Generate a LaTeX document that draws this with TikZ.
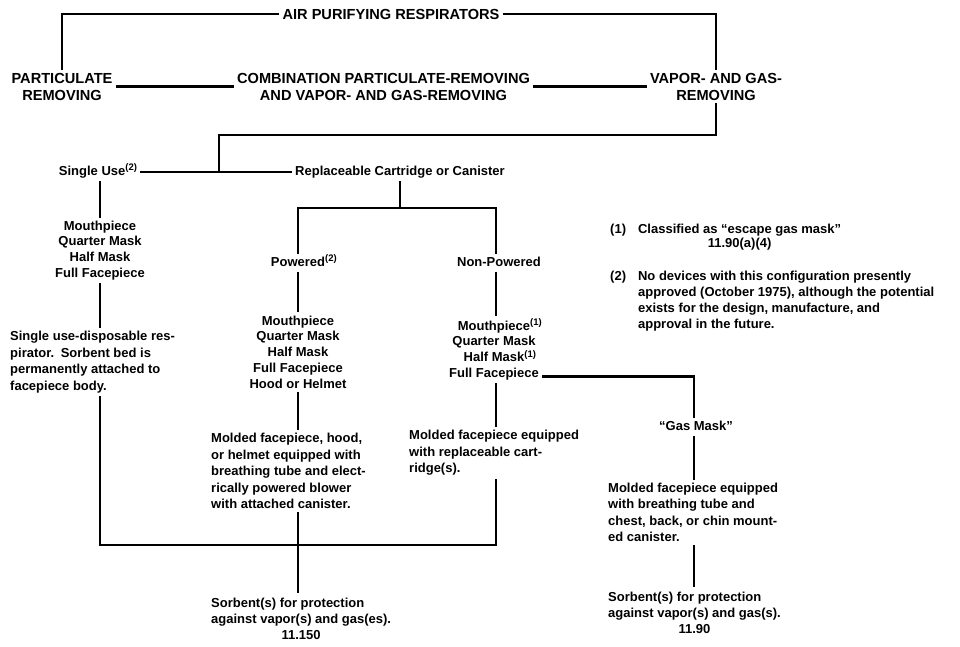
\documentclass[tikz,border=0pt]{standalone}
\usepackage{fontspec}
\setmainfont{Liberation Sans}
\usetikzlibrary{calc}
% footnote marker raised above the text line
\newcommand{\fnmark}[1]{\raisebox{4.5pt}{\fontsize{9.5}{10}\selectfont(#1)}}
\begin{document}
\begin{tikzpicture}[x=1pt,y=-1pt,
  conn/.style={line width=2.6pt, draw=black},
  capsbox/.style={font=\fontsize{14.6}{17}\selectfont\bfseries, align=center, inner sep=3pt},
  txtbox/.style={font=\fontsize{13}{16}\selectfont\bfseries, inner sep=3pt},
  oneline/.style={text height=9.5pt, text depth=2.8pt},
  listbox/.style={align=center, font=\fontsize{13}{15.8}\selectfont\bfseries},
  descbox/.style={align=left, font=\fontsize{13}{16.5}\selectfont\bfseries}]
\fill[white] (0,0) rectangle (960,646);
\useasboundingbox (0,0) rectangle (960,646);

% column and level reference points
\coordinate (cS) at (100,0);
\coordinate (cP) at (298,0);
\coordinate (cN) at (496,0);
\coordinate (cG) at (694,0);
\coordinate (lvl2) at (0,135);
\coordinate (lvl3) at (0,208);
\coordinate (bar) at (0,545);
\coordinate (j1) at (219,172);

% top level: classes of air purifying respirators
\node[capsbox] (air) at (391,14) {AIR PURIFYING RESPIRATORS};
\node[capsbox] (part) at (62,86.5) {PARTICULATE\\REMOVING};
\node[capsbox] (comb) at (383.5,86.5) {COMBINATION PARTICULATE-REMOVING\\AND VAPOR- AND GAS-REMOVING};
\node[capsbox] (vapor) at (716,86.5) {VAPOR- AND GAS-\\REMOVING};

% second level
\node[txtbox,oneline] (single) at (98,172) {Single Use\fnmark{2}};
\node[txtbox,oneline] (repl) at (400,172) {Replaceable Cartridge or Canister};
\node[txtbox,oneline] (powered) at (298,263) {Powered\rlap{\fnmark{2}}};
\node[txtbox,oneline] (nonpow) at (499,263) {Non-Powered};

% single use branch
\node[txtbox,listbox] (slist) at (100,250.5) {Mouthpiece\\Quarter Mask\\Half Mask\\Full Facepiece};
\node[txtbox,descbox,anchor=west] (sdesc) at (7,362) {Single use-disposable res-\\pirator.\enspace Sorbent bed is\\permanently attached to\\facepiece body.};

% powered branch
\node[txtbox,listbox] (plist) at (298,352) {Mouthpiece\\Quarter Mask\\Half Mask\\Full Facepiece\\Hood or Helmet};
\node[txtbox,descbox,anchor=west] (pdesc) at (208,471) {Molded facepiece, hood,\\or helmet equipped with\\breathing tube and elect-\\rically powered blower\\with attached canister.};
\node[txtbox,anchor=west] (psorb) at (208,620.5) {\begin{tabular}{@{}l@{}}Sorbent(s) for protection\\against vapor(s) and gas(es).\\\multicolumn{1}{@{}c@{}}{11.150}\end{tabular}};

% non-powered branch
\node[txtbox,listbox] (nlist) at (494,349.5) {Mouthpiece\rlap{\fnmark{1}}\\Quarter Mask\\Half Mask\rlap{\fnmark{1}}\\Full Facepiece};
\node[txtbox,descbox,anchor=west] (ndesc) at (406,453) {Molded facepiece equipped\\with replaceable cart-\\ridge(s).};

% gas mask branch
\node[txtbox,oneline] (gas) at (696,427) {``Gas Mask''};
\node[txtbox,descbox,anchor=west] (gdesc) at (605,512.5) {Molded facepiece equipped\\with breathing tube and\\chest, back, or chin mount-\\ed canister.};
\node[txtbox,anchor=west] (gsorb) at (605,614.5) {\begin{tabular}{@{}l@{}}Sorbent(s) for protection\\against vapor(s) and gas(s).\\\multicolumn{1}{@{}c@{}}{11.90}\end{tabular}};

% footnotes
\node[txtbox,anchor=north west] (note1) at (607,219) {\begin{tabular}{@{}l@{\hspace{12pt}}c@{}}(1) & Classified as ``escape gas mask''\\[-2pt] & 11.90(a)(4)\end{tabular}};
\node[txtbox,anchor=north west] (note2) at (607,266) {\begin{tabular}{@{}l@{\hspace{12pt}}l@{}}(2) & No devices with this configuration presently\\ & approved (October 1975), although the potential\\ & exists for the design, manufacture, and\\ & approval in the future.\end{tabular}};

% connectors
\draw[conn] (air.west) -| (part.north);
\draw[conn] (air.east) -| (vapor.north);
\draw[conn] (part.east) -- (comb.west);
\draw[conn] (comb.east) -- (vapor.west);
\draw[conn] (vapor.south) |- (lvl2 -| j1) -- (j1);
\draw[conn] (single.east) -- (single.east -| repl.west);
\draw[conn] (repl.south) -- (repl.south |- lvl3);
\draw[conn] (powered.north -| cP) |- (lvl3 -| cN) -- (nonpow.north -| cN);
\draw[conn] (single.south -| cS) -- (slist.north -| cS);
\draw[conn] (slist.south -| cS) -- (sdesc.north -| cS);
\draw[conn] (sdesc.south -| cS) -- (bar -| cS) -- (bar -| cN) -- (ndesc.south -| cN);
\draw[conn] (powered.south -| cP) -- (plist.north -| cP);
\draw[conn] (plist.south -| cP) -- (pdesc.north -| cP);
\draw[conn] (pdesc.south -| cP) -- (psorb.north -| cP);
\draw[conn] (nonpow.south -| cN) -- (nlist.north -| cN);
\draw[conn] (nlist.south -| cN) -- (ndesc.north -| cN);
\coordinate (ffend) at ($(nlist.south east)+(0,-7)$);
\draw[conn] (ffend) -| (gas.north -| cG);
\draw[conn] (gas.south -| cG) -- (gdesc.north -| cG);
\draw[conn] (gdesc.south -| cG) -- (gsorb.north -| cG);
\end{tikzpicture}
\end{document}
